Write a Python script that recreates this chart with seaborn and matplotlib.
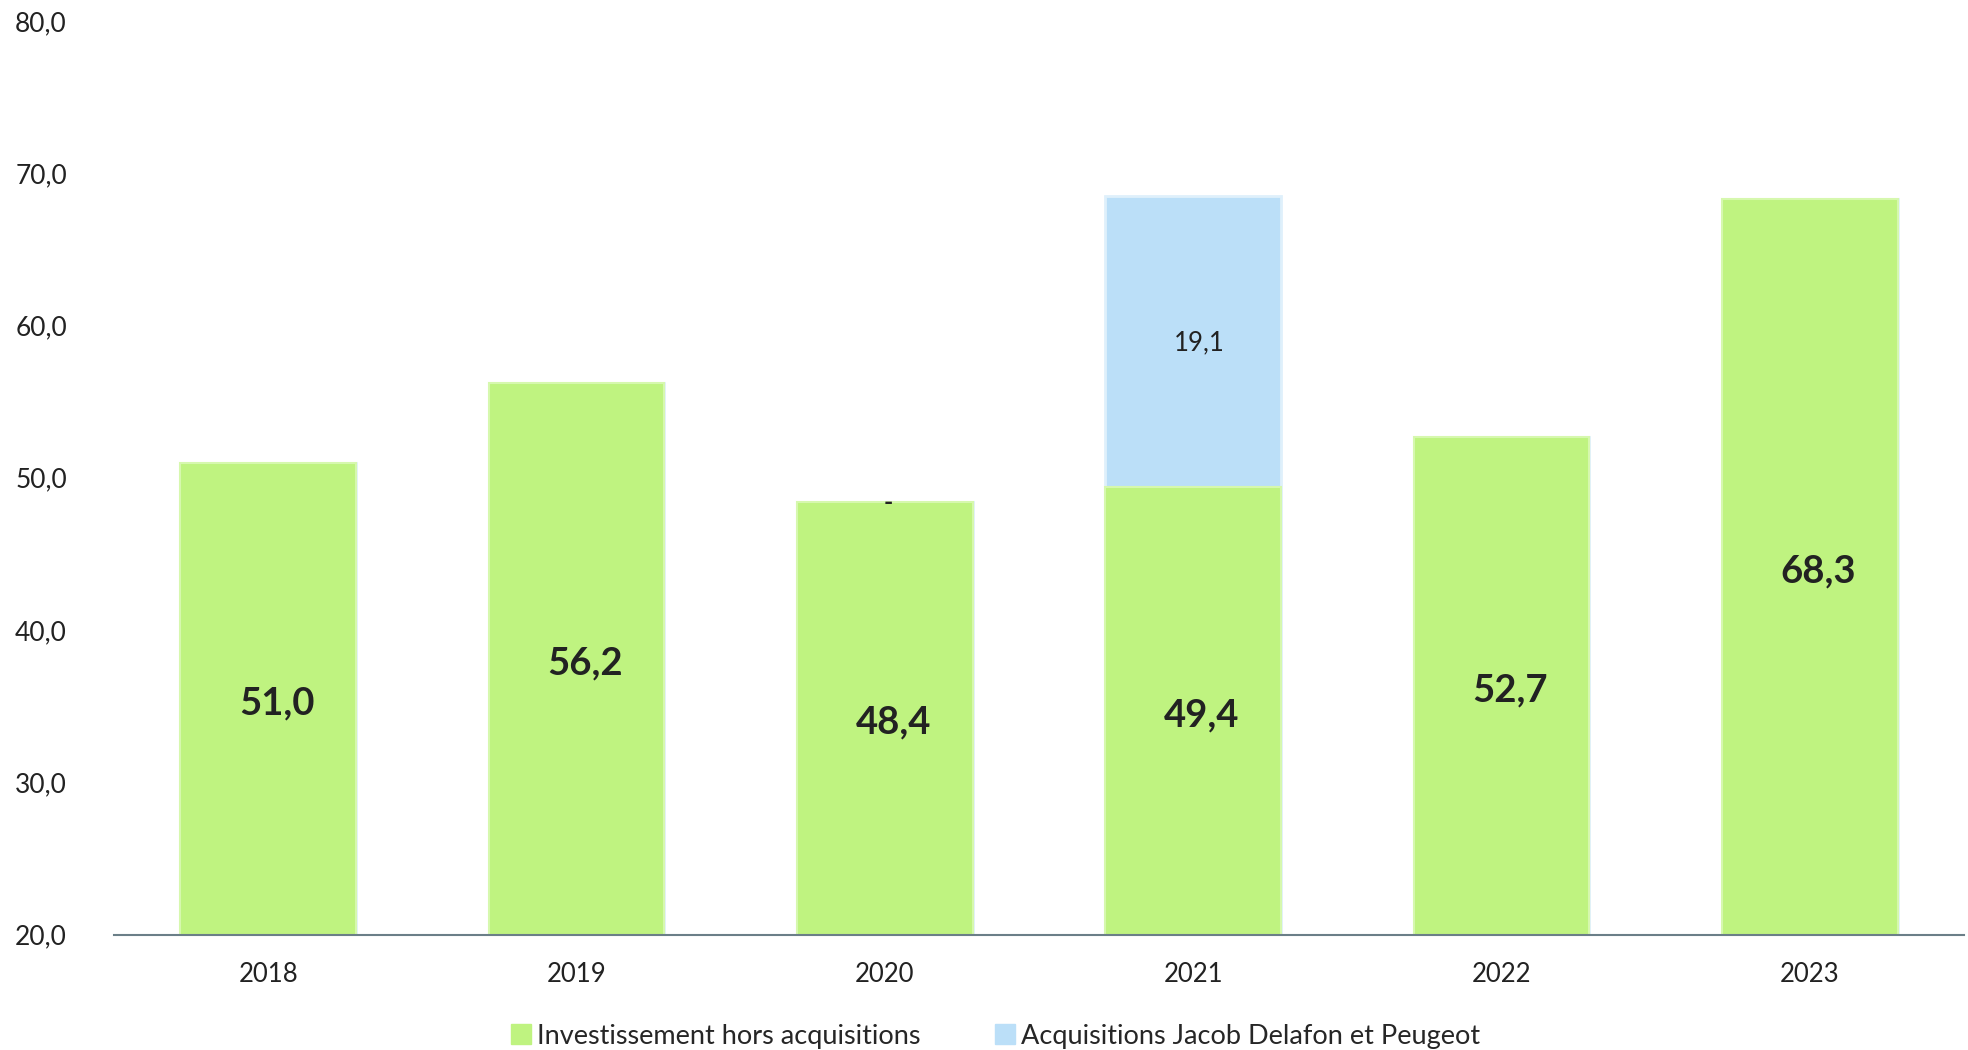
import pandas as pd
import matplotlib.pyplot as plt
import seaborn as sns
from matplotlib.lines import Line2D

annees = ['2018', '2019', '2020', '2021', '2022', '2023']
invest_hors_acq = [51.0, 56.2, 48.4, 49.4, 52.7, 68.3]
acquisitions = [None, None, 0.0, 19.1, None, None]

vert = '#bff380'
bleu = '#bbdff8'

df = pd.DataFrame({'annee': annees,
                   'invest': invest_hors_acq,
                   'acq': [a if a is not None else 0.0 for a in acquisitions]})
df['total'] = df['invest'] + df['acq']

sns.set_theme(style='white')
plt.rcParams['font.family'] = ['Lato', 'DejaVu Sans']

fig = plt.figure(figsize=(19.68, 10.5), dpi=100)
ax = fig.add_axes([0.058, 0.11, 0.94, 0.87])

# barres empilées : total en bleu, puis la partie verte par-dessus
sns.barplot(data=df, x='annee', y='total', color=bleu, width=0.57,
            edgecolor='#dff0fb', linewidth=2, saturation=1, ax=ax)
sns.barplot(data=df, x='annee', y='invest', color=vert, width=0.57,
            edgecolor='#d6f8ae', linewidth=1.5, saturation=1, ax=ax)

ax.set_ylim(20, 80)
ax.set_xlim(-0.5, 5.5)
ax.set_yticks(range(20, 81, 10))
ax.set_yticklabels([f'{v},0' for v in range(20, 81, 10)])
ax.set_xlabel('')
ax.set_ylabel('')
ax.tick_params(axis='y', length=0, pad=34, labelsize=19, labelcolor='#222222')
ax.tick_params(axis='x', length=0, pad=20, labelsize=18.5, labelcolor='#222222')
for s in ['top', 'right', 'left']:
    ax.spines[s].set_visible(False)
ax.spines['bottom'].set_color('#6b7f88')
ax.spines['bottom'].set_linewidth(1.5)

# étiquettes de valeurs
for i, (v, a) in enumerate(zip(invest_hors_acq, acquisitions)):
    ax.text(i + 0.028, (20 + v) / 2 - 0.3, f'{v:.1f}'.replace('.', ','),
            ha='center', va='center', fontsize=27.5, fontweight='bold', color='#222222')
    if a is None:
        continue
    if a == 0:
        ax.text(i + 0.012, v, '-', ha='center', va='center', fontsize=18,
                fontweight='bold', color='#222222')
    else:
        ax.text(i + 0.02, v + a / 2 - 0.1, f'{a:.1f}'.replace('.', ','),
                ha='center', va='center', fontsize=18.5, color='#222222')

handles = [Line2D([], [], marker='s', linestyle='', markersize=14, color=vert,
                  label='Investissement hors acquisitions'),
           Line2D([], [], marker='s', linestyle='', markersize=14, color=bleu,
                  label='Acquisitions Jacob Delafon et Peugeot')]
fig.legend(handles=handles, loc='lower center', bbox_to_anchor=(0.505, -0.022), ncol=2,
           frameon=False, fontsize=19.5, handletextpad=0.1, columnspacing=2.6,
           handlelength=1.0)

fig.savefig('out.png', dpi=100)
